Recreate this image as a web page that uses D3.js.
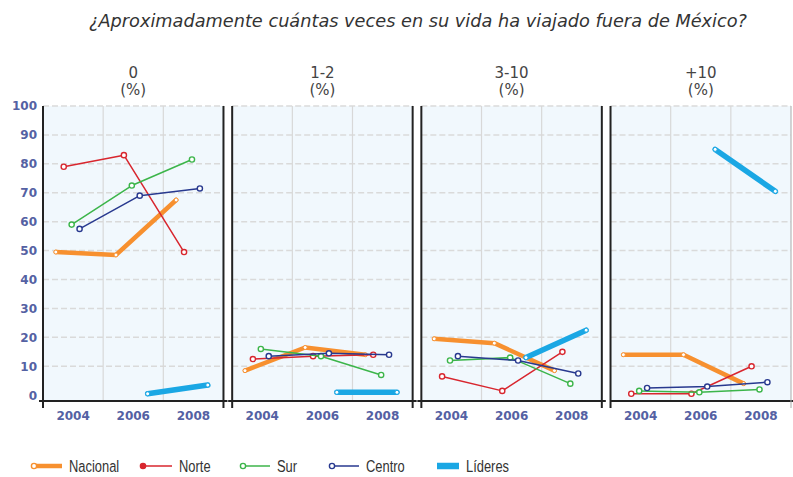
<!DOCTYPE html>
<html lang="es">
<head>
<meta charset="utf-8">
<title>Viajes fuera de México</title>
<script src="https://cdnjs.cloudflare.com/ajax/libs/d3/7.8.5/d3.min.js"></script>
<style>
  body { margin: 0; background: #fff; }
  .title { font-family: "DejaVu Sans", sans-serif; font-style: italic; font-size: 17px; fill: #333; }
  .phead { font-family: "DejaVu Sans", sans-serif; font-size: 15px; fill: #444; }
  .tick text { font-family: "DejaVu Sans", sans-serif; font-size: 12px; font-weight: bold; fill: #5461a3; }
  .legend text { font-family: "Liberation Sans", Arial, sans-serif; font-size: 17px; fill: #333; }
  .hgrid { stroke: #dadada; stroke-width: 1.5; stroke-dasharray: 6,3; }
  .vgrid { stroke: #d8d8d8; stroke-width: 1.2; }
  .border { stroke: #222; stroke-width: 2; }
</style>
</head>
<body>
<div id="chart"></div>
<script>
var panels = ["0", "1-2", "3-10", "+10"];
var years = ["2004", "2006", "2008"];
var seriesNames = ["Nacional", "Norte", "Sur", "Centro", "Líderes"];
// one row per panel, one value per year (null = no data)
var nacional = [[49.5, 48.5, 67.5], [8.5, 16.5, 14], [19.5, 18, 8.5], [14, 14, 4]];
var norte    = [[79, 83, 49.5], [12.5, 13.5, 14], [6.5, 1.5, 15], [0.5, 0.5, 10]];
var sur      = [[59, 72.5, 81.5], [16, 13.5, 7], [12, 13, 4], [1.5, 1, 2]];
var centro   = [[57.5, 69, 71.5], [13.5, 14.5, 14], [13.5, 12, 7.5], [2.5, 3, 4.5]];
var lideres  = [[null, 0.5, 3.5], [null, 1, 1], [null, 13, 22.5], [null, 85, 70.5]];
var yTicks = [0, 10, 20, 30, 40, 50, 60, 70, 80, 90, 100];
var titleText = "¿Aproximadamente cuántas veces en su vida ha viajado fuera de México?";

var seriesData = [nacional, norte, sur, centro, lideres];
var colors = ["#f7902f", "#d8262e", "#3cb54a", "#28398f", "#1aa7e4"];
var widths = [4.5, 1.5, 1.5, 1.5, 5.5];

var W = 793, H = 477;
var svg = d3.select("#chart").append("svg")
  .attr("width", W).attr("height", H);

var px = d3.scaleBand().domain(panels).range([43, 791]).paddingInner(0.046);
var y = d3.scaleLinear().domain([-2, 100]).range([401, 106]);
var xb = d3.scaleBand().domain(years).range([0, px.bandwidth()]);
var xs = d3.scalePoint().domain(seriesNames).range([0, xb.bandwidth()]).padding(1.8).align(0.45);

svg.append("text").attr("class", "title")
  .attr("x", 418).attr("y", 27).attr("text-anchor", "middle")
  .attr("textLength", 658).attr("lengthAdjust", "spacingAndGlyphs")
  .text(titleText);

panels.forEach(function(p, pi) {
  var g = svg.append("g").attr("transform", "translate(" + px(p) + ",0)");
  var bw = px.bandwidth();

  g.append("rect").attr("x", 0).attr("y", y(100)).attr("width", bw)
    .attr("height", y(-2) - y(100)).attr("fill", "#f1f8fd");

  g.selectAll(".hgrid").data(yTicks.filter(function(d) { return d > 0; }))
    .enter().append("line").attr("class", "hgrid")
    .attr("x1", 0).attr("x2", bw)
    .attr("y1", function(d) { return y(d); }).attr("y2", function(d) { return y(d); });

  g.selectAll(".vgrid").data(years.slice(1))
    .enter().append("line").attr("class", "vgrid")
    .attr("x1", function(d) { return xb(d); }).attr("x2", function(d) { return xb(d); })
    .attr("y1", y(100)).attr("y2", y(-2));

  g.append("text").attr("class", "phead").attr("x", bw / 2).attr("y", 78)
    .attr("text-anchor", "middle").text(p);
  g.append("text").attr("class", "phead").attr("x", bw / 2).attr("y", 95)
    .attr("text-anchor", "middle").text("(%)");

  // x axis labels
  var xa = g.append("g").attr("transform", "translate(0," + y(-2) + ")")
    .call(d3.axisBottom(xb).tickSize(0).tickPadding(10));
  xa.select(".domain").remove();

  if (pi === 0) {
    var ya = g.append("g").call(d3.axisLeft(y).tickValues(yTicks).tickSize(0).tickPadding(6));
    ya.select(".domain").remove();
  }

  // frame
  g.append("line").attr("class", "border").attr("x1", 0).attr("x2", 0)
    .attr("y1", y(100)).attr("y2", 408);
  g.append("line").attr("class", "border")
    .attr("x1", pi === panels.length - 1 ? 0 : -4).attr("x2", bw + (pi === panels.length - 1 ? 2 : 4))
    .attr("y1", y(-2)).attr("y2", y(-2));
  if (pi < panels.length - 1) {
    g.append("line").attr("class", "border").attr("x1", bw).attr("x2", bw)
      .attr("y1", y(100)).attr("y2", 408);
  } else {
    g.append("line").attr("x1", bw).attr("x2", bw).attr("y1", y(100)).attr("y2", 408)
      .attr("stroke", "#aaa").attr("stroke-width", 1);
  }

  seriesNames.forEach(function(s, si) {
    var pts = years.map(function(yr, yi) {
      return { x: xb(yr) + xs(s), v: seriesData[si][pi][yi] };
    }).filter(function(d) { return d.v !== null; });

    var line = d3.line().x(function(d) { return d.x; }).y(function(d) { return y(d.v); });
    g.append("path").datum(pts).attr("d", line)
      .attr("fill", "none").attr("stroke", colors[si])
      .attr("stroke-width", widths[si]).attr("stroke-linecap", "round").attr("stroke-linejoin", "round");

    g.selectAll(".m" + si).data(pts).enter().append("circle")
      .attr("class", "m" + si)
      .attr("cx", function(d) { return d.x; }).attr("cy", function(d) { return y(d.v); })
      .attr("r", si === 0 || si === 4 ? 2 : 2.6)
      .attr("fill", "#fff")
      .attr("stroke", colors[si]).attr("stroke-width", si === 0 || si === 4 ? 1 : 1.4);
  });
});

// legend
var legendX = [34, 143, 243, 332, 437];
var legendLen = [28, 29, 27, 27, 22];
var lg = svg.append("g").attr("class", "legend");
seriesNames.forEach(function(s, si) {
  var item = lg.append("g").attr("transform", "translate(" + legendX[si] + ",466)");
  item.append("line").attr("x1", 0).attr("x2", legendLen[si]).attr("y1", 0).attr("y2", 0)
    .attr("stroke", colors[si]).attr("stroke-width", widths[si] + (si === 4 ? 1 : 0));
  if (si < 4) {
    item.append("circle").attr("cx", 0).attr("cy", 0).attr("r", 2.6)
      .attr("fill", si === 1 ? colors[si] : "#fff").attr("stroke", colors[si]).attr("stroke-width", 1.4);
  }
  item.append("text")
    .attr("transform", "translate(" + (legendLen[si] + 7) + ",6) scale(0.76,1)")
    .text(s);
});
</script>
</body>
</html>
